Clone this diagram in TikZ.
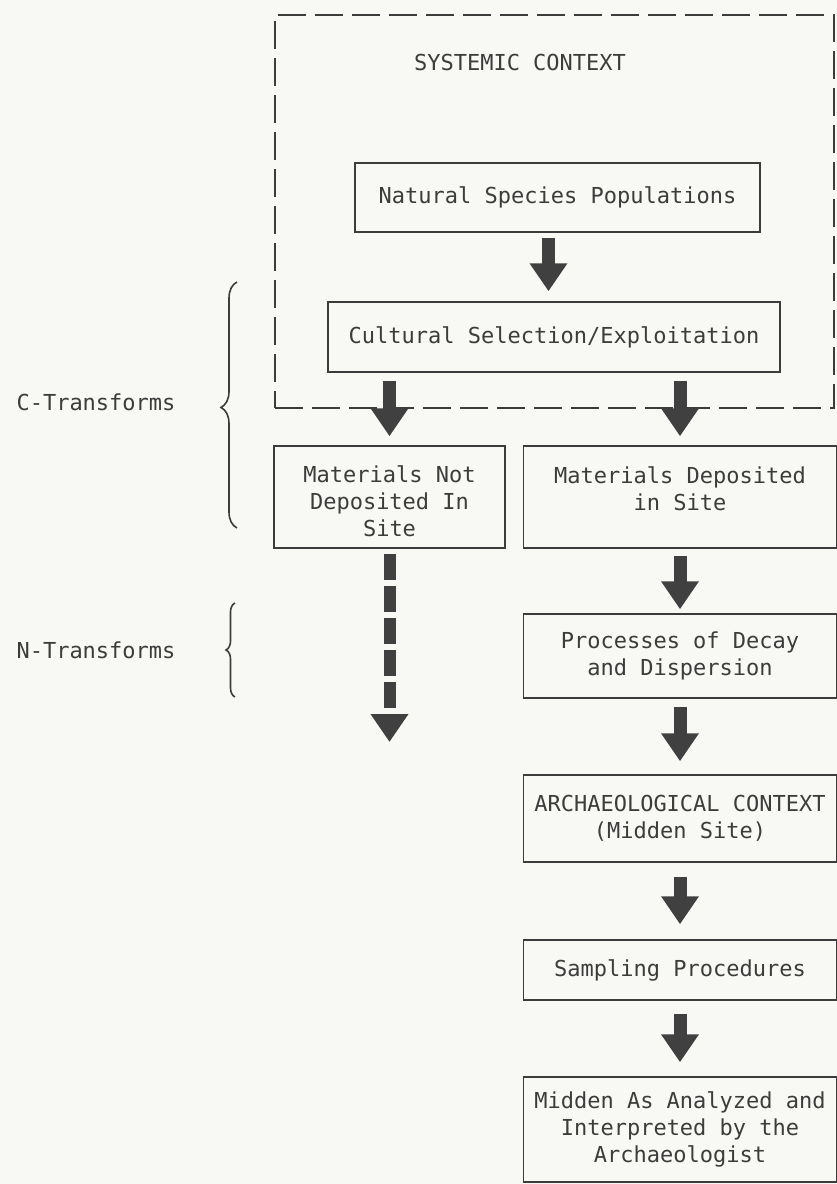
\documentclass[tikz,border=0pt]{standalone}
\usepackage{fontspec}
\newfontfamily\typew{DejaVu Sans Mono}
\usetikzlibrary{arrows.meta,decorations.pathreplacing}
\definecolor{ink}{HTML}{3C3C3C}
\definecolor{paper}{HTML}{F8F8F4}
\definecolor{arr}{HTML}{404040}
\begin{document}
\begin{tikzpicture}[x=1pt,y=-1pt,
  every node/.style={font=\typew\fontsize{22}{27}\selectfont, text=ink},
  box/.style={draw=ink, line width=1.5pt, inner sep=0pt, align=center},
  blk/.style={draw=arr, line width=13pt, -{Triangle[width=36pt,length=28pt]}},
  brc/.style={draw=ink, line width=1.6pt, decorate},
]
\fill[paper] (0,0) rectangle (837,1184);
\useasboundingbox (0,0) rectangle (837,1184);

% systemic context frame
\node[draw=ink, line width=2pt, dash pattern=on 28pt off 9pt, minimum width=559pt, minimum height=393pt, inner sep=0pt] (sys) at (554.5,211.5) {};
\node (systitle) at (520,62) {SYSTEMIC CONTEXT};

\node[box, minimum width=405pt, minimum height=69pt] (nat) at (557.5,197.5) {Natural Species Populations};
\node[box, minimum width=452pt, minimum height=70pt] (cult) at (554,337) {Cultural Selection/Exploitation};

\node[box, minimum width=231pt, minimum height=102pt] (notdep) at (389.5,497) {\mbox{}\\[-1pt]Materials Not\\Deposited In\\Site};
\node[box, minimum width=313pt, minimum height=102pt] (dep) at (680,497) {Materials Deposited\\in Site\\[-10pt]\mbox{}};
\node[box, minimum width=313pt, minimum height=84pt] (proc) at (680,656) {Processes of Decay\\and Dispersion};
\node[box, minimum width=313pt, minimum height=87pt] (arch) at (680,818.5) {ARCHAEOLOGICAL CONTEXT\\(Midden Site)};
\node[box, minimum width=313pt, minimum height=60pt] (samp) at (680,970) {Sampling Procedures};
\node[box, minimum width=313pt, minimum height=105pt] (mid) at (680,1129.5) {Midden As Analyzed and\\Interpreted by the\\Archaeologist};

% arrows
\draw[blk, shorten <=5pt, shorten >=10pt] ([xshift=-9pt]nat.south) -- ([xshift=-9pt]nat.south |- cult.north);
\draw[blk, shorten <=8pt, shorten >=9pt] (cult.south -| notdep.north) -- (notdep.north);
\draw[blk, shorten <=8pt, shorten >=9pt] (cult.south -| dep.north) -- (dep.north);
\draw[blk, shorten <=7pt, shorten >=4pt] (dep.south) -- (proc.north);
\draw[blk, shorten <=8pt, shorten >=13pt] (proc.south) -- (arch.north);
\draw[blk, shorten <=14pt, shorten >=15pt] (arch.south) -- (samp.north);
\draw[blk, shorten <=13pt, shorten >=14pt] (samp.south) -- (mid.north);

\coordinate (nend) at (389.5,742);
\draw[blk, line width=12pt, dash pattern=on 26pt off 6pt, shorten <=5pt] (notdep.south) -- (nend);

% braces and labels
\node (ct) at (96,402) {C-Transforms};
\node (nt) at (96,650) {N-Transforms};
\draw[brc, decoration={brace, amplitude=16pt, aspect=0.49}] (237,528) -- (237,282);
\draw[brc, decoration={brace, amplitude=9pt, aspect=0.5}] (235,697) -- (235,603);
\end{tikzpicture}
\end{document}
